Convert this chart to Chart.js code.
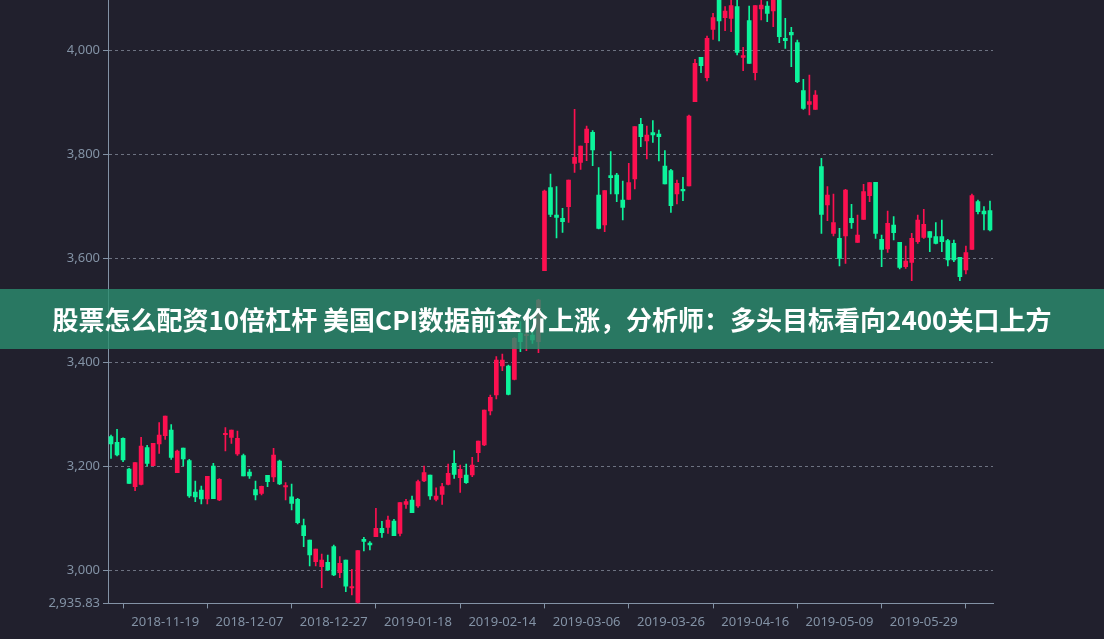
<!DOCTYPE html>
<html><head><meta charset="utf-8">
<script src="https://cdn.jsdelivr.net/npm/chart.js@4.4.1/dist/chart.umd.min.js"></script>
<style>
html,body{margin:0;padding:0;background:#21202D;overflow:hidden;}
#wrap{position:relative;width:1104px;height:639px;background:#21202D;}
#c{position:absolute;left:0;top:0;}
#banner{position:absolute;left:0;top:289px;width:1104px;height:60px;background:rgba(44,142,111,0.8);color:#fff;font-family:"Noto Sans CJK SC","Noto Sans",sans-serif;font-weight:bold;font-size:26px;line-height:60px;text-align:center;white-space:nowrap;}
</style></head><body>
<div id="wrap"><canvas id="c" width="1104" height="639"></canvas>
<div id="banner">股票怎么配资10倍杠杆 美国CPI数据前金价上涨，分析师：多头目标看向2400关口上方</div></div>
<script>
const dates = [
"2018-11-06","2018-11-07","2018-11-08","2018-11-09","2018-11-12","2018-11-13","2018-11-14","2018-11-15","2018-11-16",
"2018-11-19","2018-11-20","2018-11-21","2018-11-22","2018-11-23","2018-11-26","2018-11-27","2018-11-28","2018-11-29","2018-11-30",
"2018-12-03","2018-12-04","2018-12-05","2018-12-06","2018-12-07","2018-12-10","2018-12-11","2018-12-12","2018-12-13","2018-12-14",
"2018-12-17","2018-12-18","2018-12-19","2018-12-20","2018-12-21","2018-12-24","2018-12-25","2018-12-26","2018-12-27","2018-12-28",
"2019-01-02","2019-01-03","2019-01-04","2019-01-07","2019-01-08","2019-01-09","2019-01-10","2019-01-11","2019-01-14","2019-01-15",
"2019-01-16","2019-01-17","2019-01-18","2019-01-21","2019-01-22","2019-01-23","2019-01-24","2019-01-25","2019-01-28","2019-01-29",
"2019-01-30","2019-01-31","2019-02-01","2019-02-11","2019-02-12","2019-02-13","2019-02-14","2019-02-15","2019-02-18","2019-02-19",
"2019-02-20","2019-02-21","2019-02-22","2019-02-25","2019-02-26","2019-02-27","2019-02-28","2019-03-01","2019-03-04","2019-03-05",
"2019-03-06","2019-03-07","2019-03-08","2019-03-11","2019-03-12","2019-03-13","2019-03-14","2019-03-15","2019-03-18","2019-03-19",
"2019-03-20","2019-03-21","2019-03-22","2019-03-25","2019-03-26","2019-03-27","2019-03-28","2019-03-29","2019-04-01","2019-04-02",
"2019-04-03","2019-04-04","2019-04-08","2019-04-09","2019-04-10","2019-04-11","2019-04-12","2019-04-15","2019-04-16","2019-04-17",
"2019-04-18","2019-04-19","2019-04-22","2019-04-23","2019-04-24","2019-04-25","2019-04-26","2019-04-29","2019-04-30","2019-05-06",
"2019-05-07","2019-05-08","2019-05-09","2019-05-10","2019-05-13","2019-05-14","2019-05-15","2019-05-16","2019-05-17","2019-05-20",
"2019-05-21","2019-05-22","2019-05-23","2019-05-24","2019-05-27","2019-05-28","2019-05-29","2019-05-30","2019-05-31","2019-06-03",
"2019-06-04","2019-06-05","2019-06-06","2019-06-10","2019-06-11","2019-06-12","2019-06-13","2019-06-14"
];
const openV = [
3256.4,3245.5,3253.2,3194.3,3160.3,3164.8,3235.3,3200.7,3242.3,3258.4,3269.3,3187.2,3234.6,3210.3,3150.0,3153.9,3136.6,3200.0,3134.6,
3260.3,3255.1,3223.1,3219.9,3188.5,3154.5,3147.5,3182.1,3178.9,3209.6,3159.6,3141.0,3135.9,3085.3,3057.7,3016.0,3006.4,3014.8,3044.9,2994.9,
3019.2,2965.4,2937.8,3059.0,3051.9,3064.1,3080.1,3082.1,3094.2,3070.5,3126.3,3134.6,3123.1,3171.2,3182.7,3135.9,3145.5,3164.7,3205.1,3177.6,
3182.7,3182.7,3225.7,3240.4,3305.8,3336.6,3392.3,3392.3,3366.7,3455.1,3450.7,3451.9,3439.1,3575.7,3735.3,3682.7,3676.3,3698.7,3782.1,3784.0,
3821.8,3841.7,3721.2,3663.5,3758.3,3759.6,3711.5,3712.8,3751.9,3857.1,3825.0,3841.0,3838.5,3776.9,3768.0,3723.1,3732.0,3738.5,3900.6,3985.9,
3946.8,4039.7,4105.0,4062.2,4060.9,4083.3,3985.9,4056.4,3956.4,4078.8,4084.6,4075.0,4110.0,4022.4,4034.0,4014.1,3921.8,3895.5,3885.9,3775.7,
3701.9,3647.5,3637.8,3642.3,3676.3,3630.1,3674.4,3719.9,3745.5,3635.9,3617.3,3663.5,3630.1,3583.4,3591.7,3631.4,3639.8,3650.7,3641.0,3641.0,
3633.3,3628.2,3601.3,3576.9,3616.7,3708.3,3690.4,3691.0
];
const closeV = [
3242.3,3221.2,3211.6,3166.7,3206.4,3238.5,3205.1,3243.6,3259.6,3296.2,3216.7,3228.9,3213.5,3142.3,3140.4,3136.6,3180.1,3137.2,3174.4,
3262.8,3269.3,3253.2,3180.8,3180.8,3144.3,3160.9,3169.9,3221.2,3165.4,3162.2,3128.2,3091.1,3066.0,3028.9,3040.4,3019.2,3000.0,2990.4,3012.8,
2969.2,2968.0,3037.2,3055.1,3048.1,3080.1,3071.8,3096.2,3066.0,3129.5,3131.4,3110.3,3169.9,3187.2,3142.3,3142.3,3160.3,3185.9,3184.0,3193.6,
3168.0,3201.9,3248.1,3307.7,3332.1,3403.9,3403.9,3337.8,3445.5,3439.1,3453.2,3442.3,3519.2,3728.9,3683.9,3678.2,3669.9,3750.0,3793.6,3815.4,
3848.1,3807.7,3657.0,3729.5,3754.5,3723.1,3697.5,3744.9,3852.6,3833.3,3836.5,3836.5,3833.3,3742.3,3700.6,3743.6,3728.9,3873.1,3974.4,3969.9,
4022.4,4062.2,4055.8,4075.0,4085.3,3995.5,3989.1,3974.4,4085.3,4086.5,4070.5,4100.0,4025.6,4017.9,4028.8,3939.1,3887.8,3900.6,3913.4,3684.0,
3721.2,3668.0,3599.4,3730.8,3668.0,3644.3,3727.6,3744.9,3647.5,3616.7,3666.7,3648.7,3582.1,3594.2,3637.8,3673.1,3664.7,3639.8,3628.2,3631.4,
3596.2,3596.2,3564.1,3610.3,3719.9,3689.1,3684.6,3653.9
];
const lowV = [
3214.8,3219.3,3208.4,3166.7,3152.6,3163.5,3200.0,3200.0,3224.4,3251.3,3212.9,3187.2,3200.0,3139.8,3131.4,3127.0,3127.0,3137.2,3133.4,
3228.9,3243.6,3220.5,3180.8,3176.3,3134.6,3144.3,3160.3,3169.9,3164.1,3134.6,3115.4,3088.5,3044.9,3007.7,3007.7,2966.0,2998.7,2989.1,2985.3,
2958.3,2951.9,2935.83,3036.6,3038.5,3064.1,3062.8,3070.5,3066.0,3065.4,3118.6,3110.3,3120.5,3169.9,3135.9,3132.7,3126.3,3163.5,3176.3,3149.4,
3166.7,3179.5,3208.4,3239.1,3298.1,3328.9,3383.3,3336.6,3365.4,3419.9,3421.8,3435.9,3417.9,3575.7,3679.5,3638.5,3649.4,3668.6,3764.7,3770.5,
3787.2,3777.6,3655.8,3650.6,3723.1,3708.3,3673.1,3712.8,3732.7,3814.1,3790.4,3822.4,3786.5,3742.3,3687.8,3703.8,3710.3,3738.5,3900.6,3956.4,
3940.4,4020.5,4017.3,4037.2,4035.3,3990.4,3960.3,3974.4,3942.3,4057.7,4054.5,4044.9,4014.1,4003.2,3967.9,3937.1,3885.9,3875.0,3885.9,3647.5,
3671.8,3642.3,3584.6,3589.8,3657.1,3630.1,3674.4,3708.3,3637.8,3583.4,3610.9,3634.6,3578.9,3580.1,3556.4,3628.2,3637.8,3612.2,3626.9,3612.2,
3584.6,3593.0,3556.4,3569.2,3616.7,3684.6,3653.9,3651.9
];
const highV = [
3259.6,3270.5,3254.0,3195.5,3206.4,3255.1,3239.8,3243.6,3283.4,3296.2,3279.5,3230.8,3234.6,3212.8,3171.2,3161.6,3180.1,3205.1,3175.7,
3273.7,3269.3,3267.3,3223.1,3193.6,3171.2,3161.6,3182.1,3234.0,3211.6,3168.0,3165.4,3137.8,3098.1,3057.7,3040.4,3030.8,3028.9,3048.1,3025.7,
3019.2,3001.3,3037.2,3062.8,3054.5,3118.6,3093.6,3103.9,3097.4,3129.5,3135.9,3142.3,3173.1,3200.0,3182.7,3158.3,3166.7,3203.8,3229.5,3201.9,
3203.8,3216.7,3248.1,3307.7,3336.6,3410.3,3415.4,3394.2,3446.8,3477.6,3458.4,3461.6,3520.5,3730.8,3761.6,3737.2,3695.5,3750.0,3885.9,3815.4,
3853.9,3844.9,3773.7,3729.5,3804.5,3762.8,3748.1,3782.1,3852.6,3868.6,3853.9,3864.1,3846.2,3806.4,3770.5,3750.0,3755.1,3875.0,3982.0,3985.9,
4026.9,4070.5,4120.0,4083.3,4100.0,4098.0,4005.1,4084.6,4085.3,4100.0,4093.0,4110.0,4120.0,4060.9,4043.6,4019.2,3943.6,3951.9,3921.8,3791.7,
3737.2,3723.1,3657.1,3732.1,3703.2,3682.7,3741.7,3744.9,3745.5,3644.3,3690.4,3679.5,3630.1,3623.1,3647.5,3682.7,3693.6,3650.7,3668.0,3673.1,
3635.9,3634.6,3601.3,3623.1,3723.1,3711.5,3698.7,3709.6
];
const yMin = 2935.83;
const yMax = 4096.15;
const yTicks = [2935.83, 3000, 3200, 3400, 3600, 3800, 4000];

const UP = '#FD1050', DOWN = '#0CF49B', AXIS = '#8392A5';
const colors = dates.map((d, i) => closeV[i] >= openV[i] ? UP : DOWN);
const bodies = dates.map((d, i) => [openV[i], closeV[i]]);
const wicks = dates.map((d, i) => [lowV[i], highV[i]]);
const fmt = new Intl.NumberFormat('en-US', {maximumFractionDigits: 2});

Chart.defaults.font.family = "'Noto Sans', sans-serif";
Chart.defaults.font.size = 13;

new Chart(document.getElementById('c'), {
  type: 'bar',
  data: {
    labels: dates,
    datasets: [
      {data: bodies, backgroundColor: colors, borderWidth: 0, barThickness: 4, minBarLength: 1, grouped: false, order: 0},
      {data: wicks, backgroundColor: colors, borderWidth: 0, barThickness: 1, grouped: false, order: 1}
    ]
  },
  options: {
    responsive: false,
    animation: false,
    events: [],
    layout: {padding: {left: 0, right: 111, top: 0, bottom: 0}},
    plugins: {legend: {display: false}, tooltip: {enabled: false}},
    scales: {
      x: {
        type: 'category',
        offset: true,
        grid: {
          offset: false, drawOnChartArea: false, drawTicks: true, tickLength: 5, tickBorderDash: [],
          color: ctx => ((((ctx.index - 9) % 14) + 14) % 14 === 7) ? AXIS : 'rgba(0,0,0,0)'
        },
        border: {color: AXIS, width: 1},
        ticks: {
          autoSkip: false, maxRotation: 0, minRotation: 0, color: AXIS, padding: 6,
          callback: (v, i) => ((i - 9) % 14 === 0) ? dates[i] : ''
        },
        afterFit: s => { s.height = 639 - 603.4; s.paddingLeft = 0; s.paddingRight = 0; }
      },
      y: {
        type: 'linear',
        min: yMin,
        max: yMax,
        afterBuildTicks: s => { s.ticks = yTicks.map(v => ({value: v})); },
        grid: {color: 'rgba(160,170,185,0.6)', tickColor: AXIS, tickLength: 5, tickBorderDash: []},
        border: {color: AXIS, width: 1, dash: [3, 3]},
        ticks: {color: AXIS, padding: 3, callback: v => fmt.format(v)},
        afterFit: s => { s.width = 108; s.paddingTop = 0; s.paddingBottom = 0; }
      }
    }
  }
});
</script>
</body></html>
